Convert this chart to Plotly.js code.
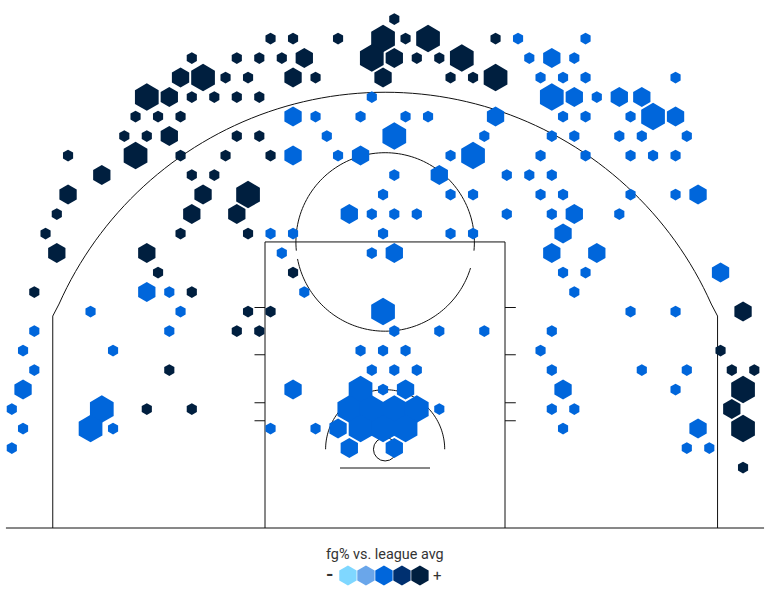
<!DOCTYPE html>
<html><head><meta charset="utf-8">
<script src="https://cdn.plot.ly/plotly-3.0.1.min.js"></script>
<style>html,body{margin:0;padding:0;background:#fff}</style></head>
<body><div id="chart" style="width:770px;height:593px"></div>
<script>
// Hex-bin lattice cells: [row, [half-columns]]
const darkSmall = [[0,[1]],[1,[-10,-8,-4,2,10]],[2,[-17,-13,-11,-9,3,5]],[3,[-14,-12,-6,6,8]],[4,[-17,-15,-13,-11]],[5,[-22,-20,-18]],[6,[-23,-21,-13,-11]],[7,[-28,-18,-14,-10]],[8,[-17,-15]],[10,[-29]],[11,[-30,-18,-12]],[13,[-20,-8]],[14,[-31,-17]],[15,[-12,-10]],[16,[-13,-11]],[17,[30]],[18,[-19,31,33]],[20,[-21,-17]],[23,[32]]];
const darkMedium = [[2,[-7,1]],[3,[-18,-8,0]],[4,[-19]],[6,[-19]],[8,[-25]],[9,[-28,-16]],[10,[-17,-13]],[12,[-29,-21]],[15,[32]],[20,[31]]];
const darkLarge = [[1,[0,4]],[2,[-1,7]],[3,[-16,10]],[4,[-21]],[7,[-22]],[9,[-12]],[19,[32]],[21,[32]]];
const blueSmall = [[1,[12,18]],[2,[13,17]],[3,[14,16,18,26]],[4,[-1,19]],[5,[-6,-2,2,4,16,18,22]],[6,[-5,9,15,17,21,23,27]],[7,[-4,6,14,18,22,24,26]],[8,[1,11,13,15]],[9,[0,6,8,14,16,22,26]],[10,[-1,1,3,11,15,21]],[11,[-10,-8,0,6,8]],[12,[-9,-1]],[13,[16,18]],[14,[-19,-7,17]],[15,[-26,-18,22,26]],[16,[-31,-19,1,5,9,15]],[17,[-32,-24,-2,0,2,14]],[18,[-31,-1,1,3,15,23,27]],[19,[0,26]],[20,[-33,5,15,17]],[21,[-32,-24,-10,-6,16]],[22,[-33,27,29]]];
const blueMedium = [[2,[15]],[4,[17,21,23]],[5,[-8,10,26]],[7,[-8,-2]],[8,[5]],[9,[28]],[10,[-3,17]],[11,[16]],[12,[1,15,19]],[13,[30]],[14,[-21]],[19,[-32,-8,2,16]],[21,[-4,28]],[22,[-3,1]]];
const blueLarge = [[4,[15]],[5,[24]],[6,[1]],[7,[8]],[15,[0]],[19,[-2]],[20,[-25,-3,-1,1,3]],[21,[-26,-2,0,2]]];
const legendColors = ['#7fd7ff','#6aa6ea','#0066db','#003070','#001f3f'];
const legendX = [-2.47,-1.27,-0.07,1.13,2.33];

const BLUE = '#0066db', DARK = '#001f3f';
const SIZES = {small:11.7, medium:20, large:27.4};
// lattice -> court feet
const cellX = k => -0.13 + 0.75*k;
const cellY = j => 33.93 - 1.3*j;

function trace(cells, color, size){
  const x=[], y=[];
  cells.forEach(([j,ks]) => ks.forEach(k => { x.push(cellX(k)); y.push(cellY(j)); }));
  return {type:'scatter',mode:'markers',x,y,hoverinfo:'skip',showlegend:false,
    marker:{symbol:'hexagon',size,color,line:{width:0}}};
}
function arcPts(cx,cy,r,a0,a1){
  const n=90, d=[];
  for(let i=0;i<=n;i++){
    const a=(a0+(a1-a0)*i/n)*Math.PI/180;
    d.push((cx+r*Math.cos(a)).toFixed(3)+','+(cy+r*Math.sin(a)).toFixed(3));
  }
  return d;
}
const arc=(cx,cy,r,a0,a1)=>'M'+arcPts(cx,cy,r,a0,a1).join('L');
const line={color:'#111',width:1};
const seg=(x0,y0,x1,y1)=>({type:'line',x0,y0,x1,y1,line,layer:'below'});
const path=d=>({type:'path',path:d,line,layer:'below'});
const CX=0.01, RIM=5.25;
const threeArc=['-22.15,14.13'].concat(arcPts(CX,RIM,23.8,156,24)).concat(['22.17,14.13']);
const shapes=[
  seg(-25.27,0,25.27,0),
  seg(-22.15,0,-22.15,14.13), seg(22.17,0,22.17,14.13),
  path('M'+threeArc.join('L')),
  seg(-8,0,-8,19.07), seg(8,0,8,19.07), seg(-8,19.07,8,19.07),
  path(arc(CX,19.07,5.95,-5.6,185.6)),
  path(arc(CX,19.07,5.95,191,343)),
  path(arc(CX,RIM,3.97,0,180)),
  {type:'circle',x0:CX-0.78,x1:CX+0.78,y0:RIM-0.78,y1:RIM+0.78,line,layer:'below'},
  seg(-3,4,3,4),
  ...[14.7,11.55,8.35,7.15].flatMap(y=>[seg(-8.7,y,-8,y),seg(8,y,8.72,y)])
];
const data=[
  trace(darkLarge,DARK,SIZES.large),trace(darkMedium,DARK,SIZES.medium),trace(darkSmall,DARK,SIZES.small),
  trace(blueLarge,BLUE,SIZES.large),trace(blueMedium,BLUE,SIZES.medium),trace(blueSmall,BLUE,SIZES.small),
  {type:'scatter',mode:'markers',x:legendX,y:legendX.map(()=>-3.17),hoverinfo:'skip',showlegend:false,
   marker:{symbol:'hexagon',size:20,color:legendColors,line:{width:0}}}
];
const FONT={family:'Roboto, sans-serif',color:'#333'};
const note=(text,x,y,size)=>({text,x,y,xref:'x',yref:'y',showarrow:false,font:{...FONT,size}});
const layout={
  width:770,height:593,margin:{l:0,r:0,t:0,b:0},paper_bgcolor:'#fff',plot_bgcolor:'#fff',
  xaxis:{range:[-25.667,25.667],visible:false,fixedrange:true},
  yaxis:{range:[-4.333,35.2],visible:false,fixedrange:true},
  shapes,
  annotations:[
    note('fg% vs. league avg',0,-1.75,14.4),
    note('<b>-</b>',-3.67,-3.13,19),
    note('+',3.47,-3.22,15)
  ]
};
Plotly.newPlot('chart',data,layout,{displayModeBar:false,staticPlot:true});
</script></body></html>
